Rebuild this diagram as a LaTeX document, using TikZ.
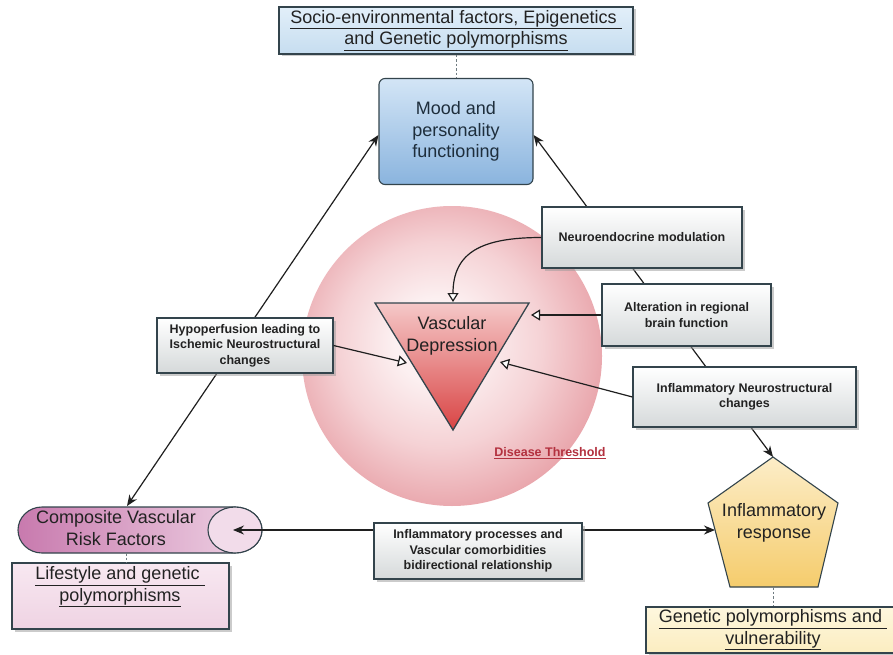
\documentclass[tikz,border=0pt]{standalone}
\usepackage{fontspec}
\setmainfont{Liberation Sans}
\usetikzlibrary{arrows.meta,shadows}
\definecolor{edgec}{HTML}{33444C}
\definecolor{txtc}{HTML}{222222}
\definecolor{boxgrey}{HTML}{D5D9DA}
\definecolor{topA}{HTML}{E2EFF9}
\definecolor{topB}{HTML}{C6DDF0}
\definecolor{moodA}{HTML}{D3E5F6}
\definecolor{moodB}{HTML}{8AB4DE}
\definecolor{moodtxt}{HTML}{1E2E3C}
\definecolor{triA}{HTML}{F5C8C8}
\definecolor{triB}{HTML}{D94444}
\definecolor{cylA}{HTML}{C87AAE}
\definecolor{cylB}{HTML}{EFD4E5}
\definecolor{cylF}{HTML}{F2DCEA}
\definecolor{lifeA}{HTML}{F8E8F1}
\definecolor{lifeB}{HTML}{EFD3E3}
\definecolor{pentA}{HTML}{FCEDC8}
\definecolor{pentB}{HTML}{F5CC6C}
\definecolor{genA}{HTML}{FEF7DE}
\definecolor{genB}{HTML}{FBEDC0}
\definecolor{threshc}{HTML}{B3303E}
\definecolor{ballA}{HTML}{FCF0F1}
\definecolor{ballB}{HTML}{F5D2D5}
\definecolor{ballC}{HTML}{E9A6AC}
\pgfdeclareradialshading{pinkball}{\pgfpoint{-3bp}{3bp}}{color(0bp)=(ballA); color(7bp)=(ballA); color(17bp)=(ballB); color(27bp)=(ballC); color(50bp)=(ballC)}
\pgfdeclarelayer{back}
\pgfdeclarelayer{lines}
\pgfsetlayers{back,lines,main}
\begin{document}
\begin{tikzpicture}[x=1pt,y=-1pt,
  base/.style={draw=edgec, line width=1.1pt, text=txtc, align=center, inner sep=2pt},
  shad/.style={drop shadow={shadow xshift=2.5pt, shadow yshift=-2.5pt, fill=black!40, opacity=0.5}},
  greybox/.style={base, shad, top color=white, bottom color=boxgrey, font=\bfseries\fontsize{12.5}{15.5}\selectfont},
  big/.style={font=\fontsize{18}{21.5}\selectfont},
  conn/.style={draw=black!88, line width=1.2pt},
  twoway/.style={conn, {Stealth[length=11pt,width=9pt]}-{Stealth[length=11pt,width=9pt]}},
  openarr/.style={conn, -{Triangle[open,length=9pt,width=11pt,fill=white]}},
  dashlink/.style={draw=edgec!70, line width=0.9pt, dash pattern=on 2.5pt off 2pt}
]
\useasboundingbox (0,0) rectangle (893,655);

% background, threshold circle and cylinder body
\begin{pgfonlayer}{back}
\fill[white] (0,0) rectangle (893,655);
\shade[shading=pinkball] (452,356) circle (150);
\draw[draw=edgec, line width=1.1pt, left color=cylA, right color=cylB]
  (42,507) -- (235,507) arc[start angle=90, end angle=-90, x radius=27, y radius=-23]
  -- (42,553) arc[start angle=-90, end angle=-270, x radius=24, y radius=-23] -- cycle;
\draw[draw=edgec, line width=1.1pt, fill=cylF] (235,530) ellipse[x radius=27, y radius=23];
\end{pgfonlayer}

% top boxes
\node[base, shad, big, top color=topA, bottom color=topB, minimum width=354pt, minimum height=47pt] (socio) at (456,30.5)
  {\underline{Socio-environmental factors, Epigenetics\ }\\\underline{and Genetic polymorphisms}};
\node[base, big, text=moodtxt, rounded corners=6pt, top color=moodA, bottom color=moodB, minimum width=154pt, minimum height=106pt] (mood) at (456,131.5)
  {Mood and\\personality\\functioning};
\draw[dashlink] (socio.south) -- (mood.north);

% grey boxes
\node[greybox, minimum width=176pt, minimum height=55pt] (hypo) at (245,345.5)
  {Hypoperfusion leading to\\Ischemic Neurostructural\\changes};
\node[greybox, minimum width=200pt, minimum height=61pt] (neuro) at (642,237.5)
  {Neuroendocrine modulation};
\node[greybox, minimum width=169pt, minimum height=62pt] (alter) at (686.5,315)
  {Alteration in regional\\brain function};
\node[greybox, minimum width=223pt, minimum height=60pt] (inflneuro) at (744.5,397)
  {Inflammatory Neurostructural\\changes};
\node[greybox, minimum width=208pt, minimum height=56pt] (inflproc) at (478,551)
  {Inflammatory processes and\\Vascular comorbidities\\bidirectional relationship};

% vascular depression triangle
\coordinate (tA) at (375,303);
\coordinate (tB) at (529,303);
\coordinate (tC) at (453,430);
\draw[draw=edgec, line width=1.3pt, top color=triA, bottom color=triB, line join=miter] (tA) -- (tB) -- (tC) -- cycle;
\node[big, text=txtc, align=center] (vd) at (452,336) {Vascular\\Depression};
\node[text=threshc, font=\bfseries\fontsize{12.5}{15}\selectfont] (thresh) at (550,453) {\underline{Disease Threshold}};

% composite vascular risk factors (cylinder text and anchors)
\node[big, text=txtc, align=center] (cvrf) at (116,528) {Composite Vascular\\Risk Factors};
\coordinate (cvT) at (127,506);
\coordinate (cvB) at (126,553);
\coordinate (cvF) at (233,530);

% lifestyle box
\node[base, shad, top color=lifeA, bottom color=lifeB, minimum width=217pt, minimum height=66pt] (life) at (120.5,596) {};
\node[big, text=txtc, align=center] (lifetext) at (120,587) {\underline{Lifestyle and genetic\ }\\\underline{polymorphisms}};
\draw[dashlink] (cvB) -- (life.north -| cvB);

% inflammatory response pentagon
\coordinate (pT) at (773,457);
\coordinate (pR) at (838,503);
\coordinate (pBR) at (818,587);
\coordinate (pBL) at (730,587);
\coordinate (pLv) at (708,503);
\coordinate (pL) at (715,530);
\draw[draw=edgec, line width=1.1pt, top color=pentA, bottom color=pentB] (pT) -- (pR) -- (pBR) -- (pBL) -- (pLv) -- cycle;
\node[big, text=txtc, align=center] (infresp) at (774,523) {Inflammatory\\response};

% genetic box
\node[base, shad, big, top color=genA, bottom color=genB, minimum width=254pt, minimum height=46pt] (gen) at (773,630)
  {\underline{Genetic polymorphisms and\ }\\\underline{vulnerability}};
\draw[dashlink] (773,587) -- (gen.north);

% long connectors behind boxes
\begin{pgfonlayer}{lines}
\draw[twoway] (cvT) -- ([yshift=-3.5pt]mood.west);
\draw[twoway] ([yshift=-3.5pt]mood.east) -- (pT);
\draw[twoway] (cvF) -- (pL);
\end{pgfonlayer}

% arrows into vascular depression
\coordinate (vdTop) at (453,302);
\coordinate (vdR) at (531,315);
\coordinate (vdRL) at (500,362);
\coordinate (vdL) at (407,363);
\draw[openarr] (neuro.west) .. controls (482,237.5) and (453,252) .. (vdTop);
\draw[openarr] (alter.west |- vdR) -- (vdR);
\draw[openarr] (inflneuro.west) -- (vdRL);
\draw[openarr] (hypo.east) -- (vdL);
\end{tikzpicture}
\end{document}
